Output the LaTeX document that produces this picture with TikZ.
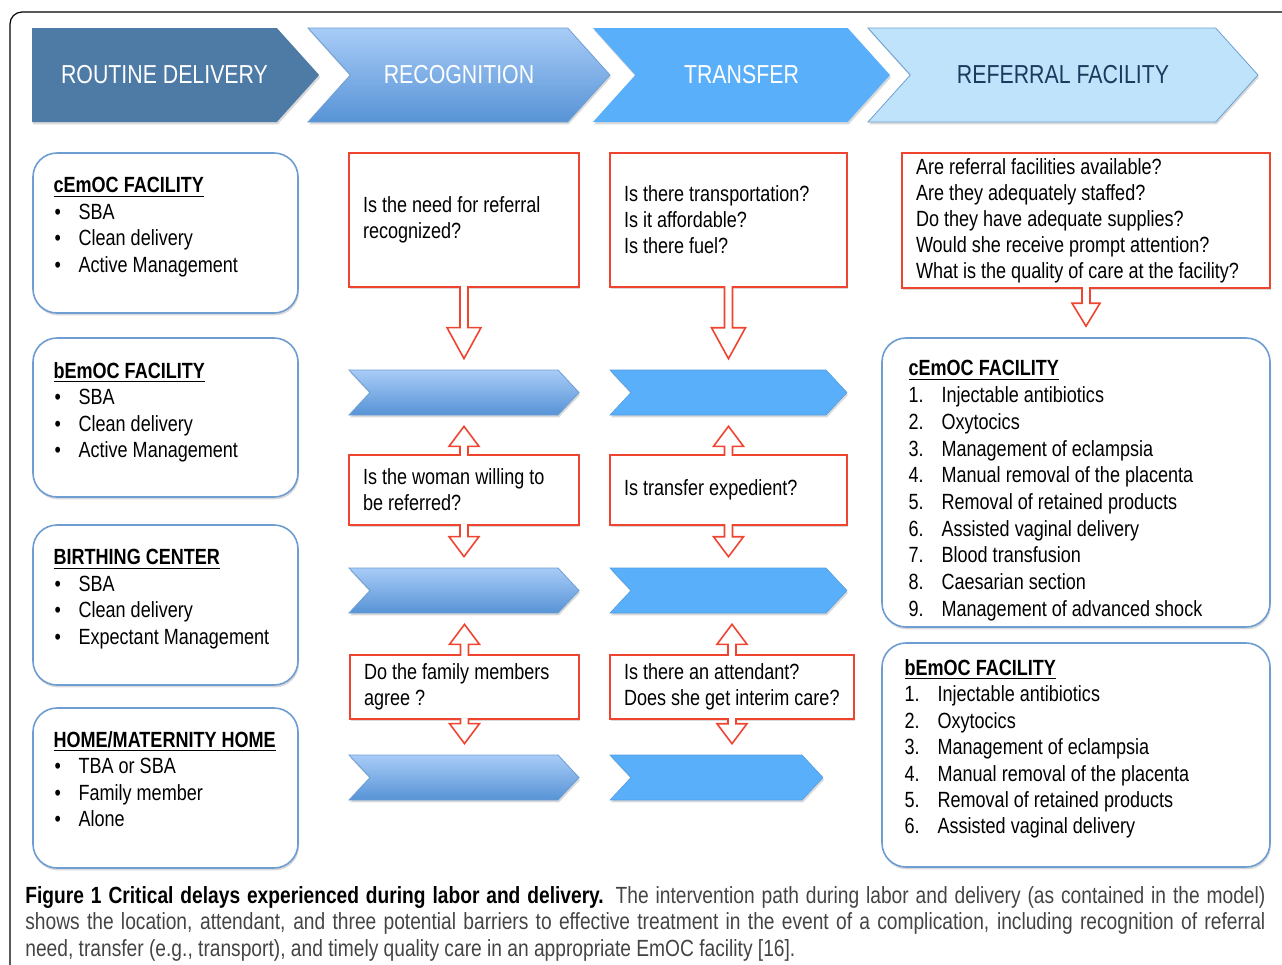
\documentclass[tikz,border=0pt]{standalone}
\usepackage{fontspec}
\setmainfont[FakeStretch=0.82]{Liberation Sans}
\newfontfamily\capfont[FakeStretch=0.82]{Liberation Sans}
\usetikzlibrary{shapes.symbols,shadows,calc,positioning}

\definecolor{hdrdark}{HTML}{4E7AA6}
\definecolor{hdrtop}{HTML}{A8CCF7}
\definecolor{hdrbot}{HTML}{5793D6}
\definecolor{hdrbright}{HTML}{5AAFFA}
\definecolor{hdrpale}{HTML}{BFE3FB}
\definecolor{hdrline}{HTML}{6D9FD3}
\definecolor{navy}{HTML}{1C3A5E}
\definecolor{qred}{HTML}{EE4430}
\definecolor{boxline}{HTML}{6E9DD1}
\definecolor{capgrey}{HTML}{444444}

\newcommand{\placehead}[1]{\underline{\textbf{#1}}}
\newcommand{\placeitem}[1]{\makebox[12.5pt][l]{\hspace{0.5pt}\textbullet}#1}
\newcommand{\careitem}[2]{\makebox[16.5pt][l]{#1.}#2}

\newcommand{\downblock}[4]{%
  \path[qarrow] let \p1=(#1), \p2=(#2) in
    (\x1-2pt,\y1+0.8pt) -- (\x1-2pt,\y2+5.5pt+#4) -- (\x1-#3,\y2+5.5pt+#4)
    -- (\x1,\y2+5.5pt) -- (\x1+#3,\y2+5.5pt+#4) -- (\x1+2pt,\y2+5.5pt+#4)
    -- (\x1+2pt,\y1+0.8pt);}
\newcommand{\upblock}[4]{%
  \path[qarrow] let \p1=(#1), \p2=(#2) in
    (\x1-2pt,\y1-0.8pt) -- (\x1-2pt,\y2-5.5pt-#4) -- (\x1-#3,\y2-5.5pt-#4)
    -- (\x1,\y2-5.5pt) -- (\x1+#3,\y2-5.5pt-#4) -- (\x1+2pt,\y2-5.5pt-#4)
    -- (\x1+2pt,\y1-0.8pt);}

\tikzset{
  softshadow/.style={drop shadow={shadow xshift=0.5pt,shadow yshift=-1.2pt,fill=black,opacity=0.15}},
  header/.style={signal, signal to=east, signal pointer angle=96, minimum height=47pt,
    inner sep=0pt, text=white, font=\fontsize{13}{15}\selectfont, softshadow},
  band/.style={signal, signal to=east, signal from=west, signal pointer angle=94,
    minimum height=22.5pt, inner sep=0pt, softshadow},
  recogband/.style={band, top color=hdrtop, bottom color=hdrbot, draw=hdrline, line width=0.4pt},
  transband/.style={band, fill=hdrbright, draw=hdrbright!90!black, line width=0.3pt},
  question/.style={draw=qred, line width=0.8pt, fill=white, inner xsep=7pt, inner ysep=0pt,
    align=flush left, font=\fontsize{11}{13}\selectfont, softshadow},
  place/.style={draw=boxline, line width=0.8pt, fill=white, rounded corners=12pt, softshadow},
  placetext/.style={inner sep=0pt, align=flush left, font=\fontsize{11}{13.2}\selectfont},
  qarrow/.style={draw=qred, line width=0.8pt, fill=white, line join=miter},
}

\begin{document}
\begin{tikzpicture}[x=0.5pt,y=-0.5pt]
\useasboundingbox (0,0) rectangle (1282,965);
\draw[line width=0.6pt, rounded corners=6pt] (10,965) -- (10,12) -- (1282,12);

\node[header, fill=hdrdark, minimum width=143.5pt] (routine) at (154.5,75) {\hspace*{10pt}ROUTINE DELIVERY};
\node[header, signal from=west, top color=hdrtop, bottom color=hdrbot, draw=hdrline,
  minimum width=151pt] (recog) at (459,75) {RECOGNITION};
\node[header, signal from=west, fill=hdrbright, minimum width=148.5pt] (transfer) at (741.5,75) {TRANSFER};
\node[header, signal from=west, fill=hdrpale, draw=hdrline, text=navy,
  minimum width=195pt] (referral) at (1063,75) {REFERRAL FACILITY};

\node[place, minimum width=132.5pt, minimum height=80pt] (cemocL) at (165.5,233) {};
\node[place, minimum width=132.5pt, minimum height=79.5pt] (bemocL) at (165.5,417.5) {};
\node[place, minimum width=132.5pt, minimum height=80pt] (birth) at (165.5,605) {};
\node[place, minimum width=132.5pt, minimum height=80pt] (home) at (165.5,788) {};

\node[placetext, below right=12.5pt and 10.5pt of cemocL.north west] (cemocLtxt)
  {\placehead{cEmOC FACILITY}\\ \placeitem{SBA}\\ \placeitem{Clean delivery}\\ \placeitem{Active Management}};
\node[placetext, below right=12.5pt and 10.5pt of bemocL.north west] (bemocLtxt)
  {\placehead{bEmOC FACILITY}\\ \placeitem{SBA}\\ \placeitem{Clean delivery}\\ \placeitem{Active Management}};
\node[placetext, below right=12.5pt and 10.5pt of birth.north west] (birthtxt)
  {\placehead{BIRTHING CENTER}\\ \placeitem{SBA}\\ \placeitem{Clean delivery}\\ \placeitem{Expectant Management}};
\node[placetext, below right=12pt and 10.5pt of home.north west] (hometxt)
  {\placehead{HOME/MATERNITY HOME}\\ \placeitem{TBA or SBA}\\ \placeitem{Family member}\\ \placeitem{Alone}};

\node[question, text width=101pt, minimum height=67pt] (q1) at (464,220)
  {Is the need for referral\\recognized?};
\node[question, text width=101pt, minimum height=35pt] (q2) at (464,490)
  {Is the woman willing to\\be referred?};
\node[question, text width=100.5pt, minimum height=32pt] (q3) at (464.5,687)
  {Do the family members\\agree ?};
\node[question, text width=104.5pt, minimum height=67pt] (t1) at (728.5,220)
  {Is there transportation?\\Is it affordable?\\Is there fuel?};
\node[question, text width=104.5pt, minimum height=35pt] (t2) at (728.5,490)
  {Is transfer expedient?};
\node[question, text width=108pt, minimum height=32pt] (t3) at (732,687)
  {Is there an attendant?\\Does she get interim care?};
\node[question, text width=170pt, minimum height=67.5pt] (r1) at (1086,220.5)
  {Are referral facilities available?\\Are they adequately staffed?\\Do they have adequate supplies?\\Would she receive prompt attention?\\What is the quality of care at the facility?};

\node[recogband, minimum width=115pt] (c1) at (464,392.5) {};
\node[recogband, minimum width=115pt] (c2) at (464,590.5) {};
\node[recogband, minimum width=115pt] (c3) at (464,777.5) {};
\node[transband, minimum width=118.5pt] (d1) at (728.5,392.5) {};
\node[transband, minimum width=118.5pt] (d2) at (728.5,590.5) {};
\node[transband, minimum width=106.5pt] (d3) at (716.5,777.5) {};

\node[place, minimum width=194pt, minimum height=144.5pt] (cemocR) at (1076,482.5) {};
\node[place, minimum width=194pt, minimum height=112pt] (bemocR) at (1076,755) {};
\node[placetext, font=\fontsize{11}{13.35}\selectfont, below right=11.5pt and 13.5pt of cemocR.north west] (cemocRtxt)
  {\placehead{cEmOC FACILITY}\\ \careitem{1}{Injectable antibiotics}\\ \careitem{2}{Oxytocics}\\
   \careitem{3}{Management of eclampsia}\\ \careitem{4}{Manual removal of the placenta}\\
   \careitem{5}{Removal of retained products}\\ \careitem{6}{Assisted vaginal delivery}\\
   \careitem{7}{Blood transfusion}\\ \careitem{8}{Caesarian section}\\
   \careitem{9}{Management of advanced shock}};
\node[placetext, below right=8.5pt and 11.5pt of bemocR.north west] (bemocRtxt)
  {\placehead{bEmOC FACILITY}\\ \careitem{1}{Injectable antibiotics}\\ \careitem{2}{Oxytocics}\\
   \careitem{3}{Management of eclampsia}\\ \careitem{4}{Manual removal of the placenta}\\
   \careitem{5}{Removal of retained products}\\ \careitem{6}{Assisted vaginal delivery}};

\downblock{q1.south}{c1.north}{8.5pt}{15.5pt}
\upblock{q2.north}{c1.south}{7.5pt}{10pt}
\downblock{q2.south}{c2.north}{7.5pt}{10pt}
\upblock{q3.north}{c2.south}{7.5pt}{10pt}
\downblock{q3.south}{c3.north}{7.5pt}{10pt}
\downblock{t1.south}{d1.north}{8.5pt}{15.5pt}
\upblock{t2.north}{d1.south}{7.5pt}{10pt}
\downblock{t2.south}{d2.north}{7.5pt}{10pt}
\upblock{t3.north}{d2.south}{7.5pt}{10pt}
\downblock{t3.south}{d3.north}{7.5pt}{10pt}
\downblock{r1.south}{cemocR.north}{7pt}{11.5pt}

\node[anchor=north west, inner sep=0pt, align=flush left, text=capgrey,
  font=\capfont\fontsize{11.7}{13.3}\selectfont] (caption) at (25,886)
  {\makebox[620pt][s]{\textbf{\color{black}Figure 1 Critical delays experienced during labor and delivery.} The intervention path during labor and delivery (as contained in the model)}\\
   \makebox[620pt][s]{shows the location, attendant, and three potential barriers to effective treatment in the event of a complication, including recognition of referral}\\
   need, transfer (e.g., transport), and timely quality care in an appropriate EmOC facility [16].};
\end{tikzpicture}
\end{document}
